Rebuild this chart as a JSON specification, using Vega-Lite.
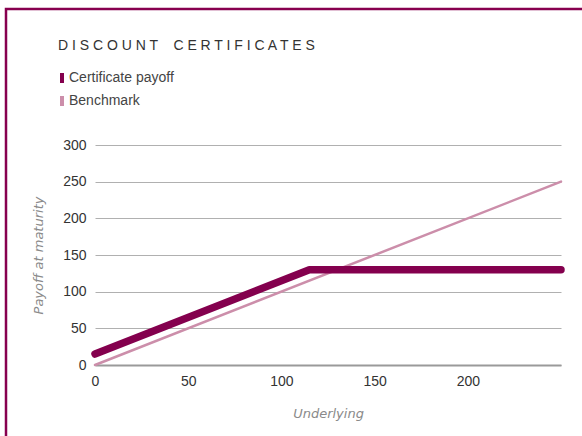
{
  "$schema": "https://vega.github.io/schema/vega-lite/v6.json",
  "autosize": {"type": "none"},
  "padding": {"left": 6, "top": 9, "right": -4, "bottom": -4},
  "width": 580,
  "height": 431,
  "background": "white",
  "config": {
    "view": {"stroke": "#87004f", "strokeWidth": 2.5, "fill": "white"},
    "font": "Liberation Sans"
  },
  "data": {
    "values": [
      {"series": "Benchmark", "underlying": 0, "payoff": 0},
      {"series": "Benchmark", "underlying": 250, "payoff": 250},
      {"series": "Certificate payoff", "underlying": 0, "payoff": 15},
      {"series": "Certificate payoff", "underlying": 115, "payoff": 130},
      {"series": "Certificate payoff", "underlying": 250, "payoff": 130}
    ]
  },
  "encoding": {
    "x": {
      "field": "underlying",
      "type": "quantitative",
      "scale": {"domain": [0, 250], "nice": false, "range": [89, 555]},
      "axis": {
        "title": "Underlying",
        "offset": -75,
        "values": [0, 50, 100, 150, 200],
        "grid": false,
        "ticks": false,
        "labelFlush": false,
        "domainColor": "#9a9a9a",
        "domainWidth": 2,
        "labelFont": "Liberation Sans",
        "labelFontSize": 14,
        "labelColor": "#333333",
        "labelPadding": 9,
        "titleFont": "DejaVu Sans",
        "titleFontStyle": "italic",
        "titleFontWeight": "normal",
        "titleFontSize": 13,
        "titleColor": "#8a8a8a",
        "titlePadding": 19
      }
    },
    "y": {
      "field": "payoff",
      "type": "quantitative",
      "scale": {"domain": [0, 300], "nice": false, "range": [356, 136]},
      "axis": {
        "title": "Payoff at maturity",
        "offset": -89,
        "values": [0, 50, 100, 150, 200, 250, 300],
        "grid": true,
        "gridColor": "#b0b0b0",
        "gridWidth": 1,
        "domain": false,
        "ticks": false,
        "labelFont": "Liberation Sans",
        "labelFontSize": 14,
        "labelColor": "#333333",
        "labelPadding": 9,
        "titleFont": "DejaVu Sans",
        "titleFontStyle": "italic",
        "titleFontWeight": "normal",
        "titleFontSize": 13,
        "titleColor": "#8a8a8a",
        "titlePadding": 17
      }
    },
    "color": {
      "field": "series",
      "type": "nominal",
      "scale": {"domain": ["Certificate payoff", "Benchmark"], "range": ["#84004e", "#cc8eaa"]},
      "legend": {
        "title": "D I S C O U N T \u00a0 \u00a0C E R T I F I C A T E S",
        "orient": "none",
        "legendX": 52,
        "legendY": 30,
        "titleFont": "Liberation Sans",
        "titleFontSize": 14,
        "titleFontWeight": "normal",
        "titleColor": "#333333",
        "titlePadding": 18,
        "titleLimit": 400,
        "labelFont": "Liberation Sans",
        "labelFontSize": 14,
        "labelColor": "#444444",
        "labelOffset": 0,
        "rowPadding": 9,
        "symbolSize": 100,
        "symbolOffset": -3,
        "symbolType": "M-0.4,-1H0.4V1H-0.4Z",
        "symbolStrokeWidth": 0,
        "encode": {
          "symbols": {
            "update": {
              "shape": {"value": "M-0.4,-1H0.4V1H-0.4Z"},
              "fill": {"scale": "color", "field": "value"},
              "stroke": {"value": "transparent"},
              "strokeWidth": {"value": 0},
              "size": {"value": 100}
            }
          }
        }
      }
    }
  },
  "layer": [
    {
      "transform": [{"filter": "datum.series === 'Benchmark'"}],
      "mark": {"type": "line", "strokeWidth": 2.5, "strokeCap": "round"}
    },
    {
      "transform": [{"filter": "datum.series === 'Certificate payoff'"}],
      "mark": {"type": "line", "strokeWidth": 7.5, "strokeCap": "round", "strokeJoin": "round"}
    }
  ]
}
